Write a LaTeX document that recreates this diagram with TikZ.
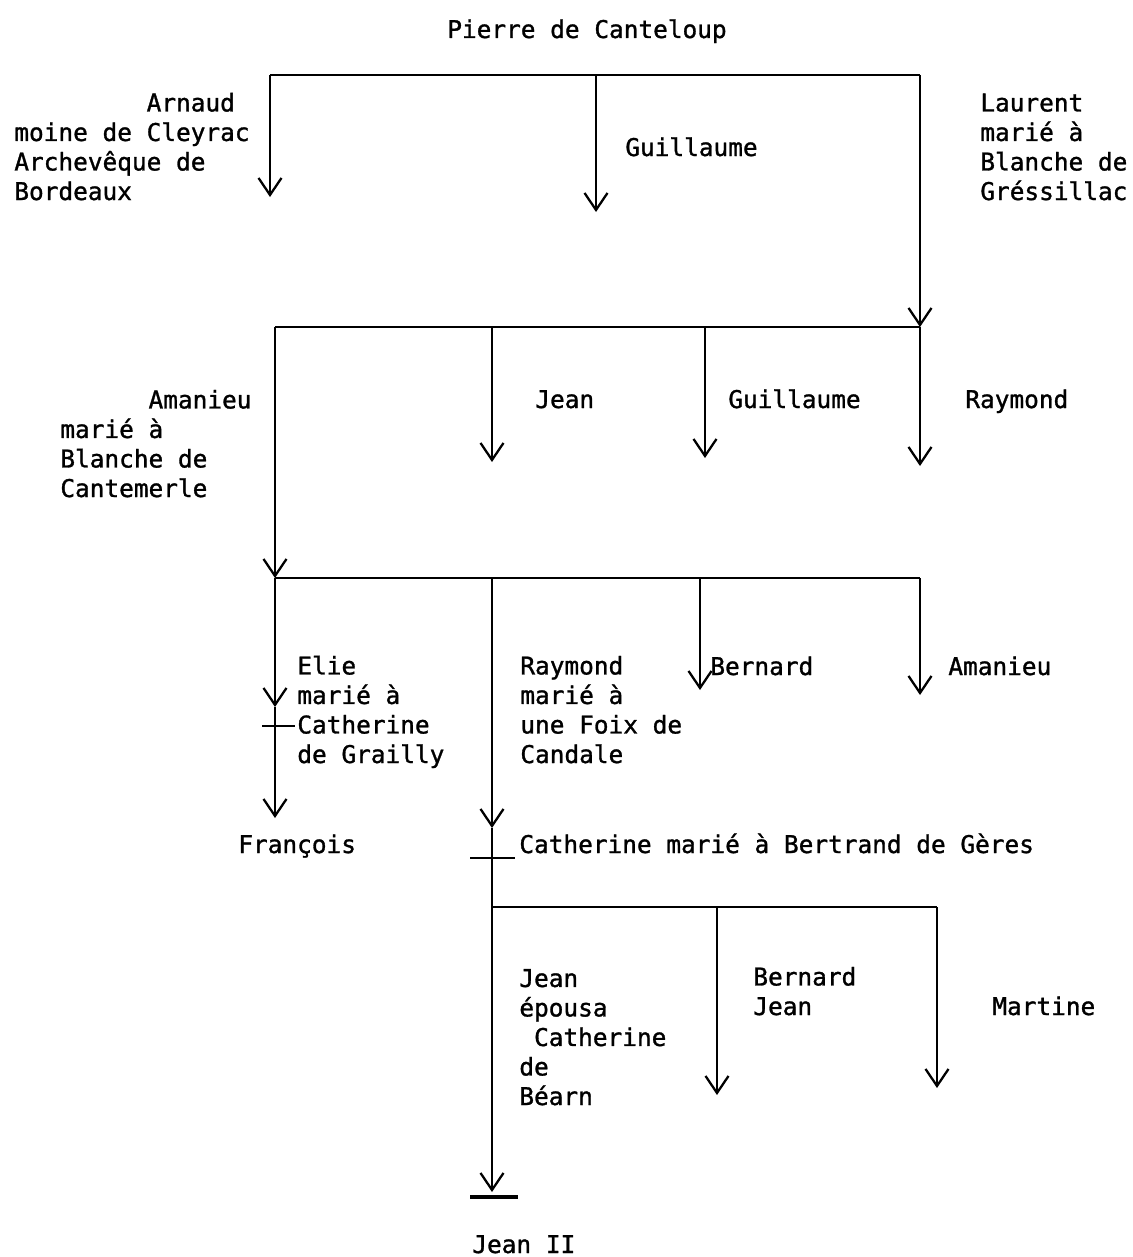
\documentclass[tikz,border=0pt]{standalone}
\usepackage{fontspec}
\setmonofont[FakeBold=1.2]{DejaVu Sans Mono}
\usetikzlibrary{arrows.meta}
\tikzset{
    person/.style = {
        font=\ttfamily\fontsize{13.9}{16.8}\selectfont,
        inner sep=0pt, anchor=base west, align=left
    },
    bus/.style = {
        line width=1.4pt
    },
    arrow/.style = {
        -{Straight Barb[length=3.4mm, width=4.6mm, line width=1.3pt]},
        line width=1.4pt
    }
}
\begin{document}
\begin{tikzpicture}[x=0.02cm, y=-0.02cm]
\useasboundingbox (0,0) rectangle (1132,1257);

% names (multi-line nodes sit on their last baseline)
\node (pierre) [person, anchor=base] at (587,38) {Pierre de Canteloup};
\node (arnaud) [person] at (14,200) {\hphantom{xxxxxxxxx}Arnaud\\moine de Cleyrac\\Archevêque de\\Bordeaux};
\node (guillaumeA) [person] at (625,156) {Guillaume};
\node (laurent) [person] at (980,200) {Laurent\\marié à\\Blanche de\\Gréssillac};
\node (amanieuA) [person] at (60,497) {\hphantom{xxxxxx}Amanieu\\marié à\\Blanche de\\Cantemerle};
\node (jeanA) [person] at (535,408) {Jean};
\node (guillaumeB) [person] at (728,408) {Guillaume};
\node (raymondA) [person] at (965,408) {Raymond};
\node (elie) [person] at (297,763) {Elie\\marié à\\Catherine\\de Grailly};
\node (raymondB) [person] at (520,763) {Raymond\\marié à\\une Foix de\\Candale};
\node (bernardA) [person] at (710,675) {Bernard};
\node (amanieuB) [person] at (948,675) {Amanieu};
\node (francois) [person] at (238,853) {François};
\node (catherine) [person] at (519,853) {Catherine marié à Bertrand de Gères};
\node (jeanB) [person] at (519,1105) {Jean\\épousa\\\hphantom{x}Catherine\\de\\Béarn};
\node (bernardB) [person] at (753,1015) {Bernard\\Jean};
\node (martine) [person] at (992,1015) {Martine};
\node (jeanII) [person] at (472,1253) {Jean II};

% buses and branch points
\coordinate (busA-w) at (270,75);
\coordinate (busA-m) at (596,75);
\coordinate (busA-e) at (920,75);
\coordinate (busB-w) at (275,327);
\coordinate (busB-j) at (492,327);
\coordinate (busB-g) at (705,327);
\coordinate (busB-e) at (920,327);
\coordinate (busC-w) at (275,578);
\coordinate (busC-r) at (492,578);
\coordinate (busC-b) at (700,578);
\coordinate (busC-e) at (920,578);
\coordinate (busD-w) at (492,907);
\coordinate (busD-b) at (717,907);
\coordinate (busD-e) at (937,907);

% arrow tips
\coordinate (tip-arnaud) at (270,197);
\coordinate (tip-guillaumeA) at (596,212);
\coordinate (tip-jeanA) at (492,462);
\coordinate (tip-guillaumeB) at (705,458);
\coordinate (tip-raymondA) at (920,466);
\coordinate (tip-elie) at (275,707);
\coordinate (tip-francois) at (275,818);
\coordinate (tip-raymondB) at (492,828);
\coordinate (tip-bernardA) at (700,690);
\coordinate (tip-amanieuB) at (920,695);
\coordinate (tip-jeanII) at (492,1192);
\coordinate (tip-bernardB) at (717,1095);
\coordinate (tip-martine) at (937,1088);

% marriage bars
\coordinate (bar-elie-w) at (262,726);
\coordinate (bar-elie-e) at (295,726);
\coordinate (bar-cath-w) at (470,858);
\coordinate (bar-cath-e) at (515,858);
\coordinate (bar-jean-w) at (470,1197);
\coordinate (bar-jean-e) at (518,1197);

\draw [bus] (busA-w) -- (busA-e);
\draw [bus] (busB-w) -- (busB-e);
\draw [bus] (busC-w) -- (busC-e);
\draw [bus] (busD-w) -- (busD-e);

\draw [arrow] (busA-w) -- (tip-arnaud);
\draw [arrow] (busA-m) -- (tip-guillaumeA);
\draw [arrow] (busA-e) -- (busB-e);

\draw [arrow] (busB-w) -- (busC-w);
\draw [arrow] (busB-j) -- (tip-jeanA);
\draw [arrow] (busB-g) -- (tip-guillaumeB);
\draw [arrow] (busB-e) -- (tip-raymondA);

\draw [arrow] (busC-w) -- (tip-elie);
\draw [arrow] (tip-elie) -- (tip-francois);
\draw [arrow] (busC-r) -- (tip-raymondB);
\draw [arrow] (tip-raymondB) -- (tip-jeanII);
\draw [arrow] (busC-b) -- (tip-bernardA);
\draw [arrow] (busC-e) -- (tip-amanieuB);

\draw [arrow] (busD-b) -- (tip-bernardB);
\draw [arrow] (busD-e) -- (tip-martine);

\draw [bus] (bar-elie-w) -- (bar-elie-e);
\draw [bus] (bar-cath-w) -- (bar-cath-e);
\draw [bus, line width=2pt] (bar-jean-w) -- (bar-jean-e);

\end{tikzpicture}
\end{document}
